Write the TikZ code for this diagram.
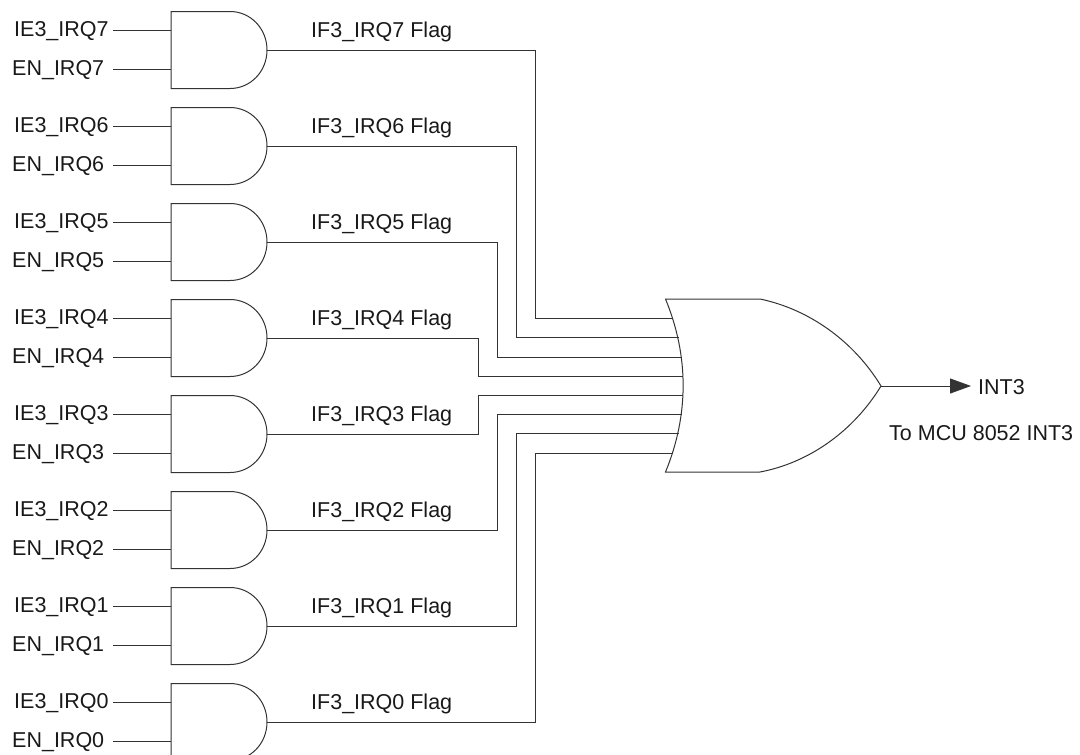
\documentclass[tikz,border=0pt]{standalone}
\usepackage{fontspec}
\setmainfont{Liberation Sans}
\usetikzlibrary{arrows.meta,calc}
\begin{document}
\begin{tikzpicture}[x=1pt,y=-1pt,
  wire/.style={line width=1pt,draw=black!80},
  gateline/.style={line width=1pt,draw=black!80,line join=miter},
  lbl/.style={inner sep=0pt,anchor=west,font=\fontsize{21.5}{25}\selectfont,text=black!90}]
\useasboundingbox (0,0) rectangle (1080,755);
\clip (0,0) rectangle (1080,755);
% OR gate pins
\coordinate (or7) at (672.5,318.5);
\coordinate (or6) at (678.5,337.5);
\coordinate (or5) at (681.5,357);
\coordinate (or4) at (683,376);
\coordinate (or3) at (683,395);
\coordinate (or2) at (681.5,414.5);
\coordinate (or1) at (678.5,433.5);
\coordinate (or0) at (672.5,453);
\coordinate (orout) at (881,386);
\draw[gateline] (665.5,299) -- (760,299) .. controls (808,309) and (853,340) .. (orout)
  .. controls (853,432) and (808,463) .. (760,472) -- (665.5,472)
  .. controls (689,415) and (689,356) .. cycle;
\foreach \i/\busx in {7/535,6/516,5/497,4/478,3/478,2/497,1/516,0/535}{
  \pgfmathsetmacro{\gy}{11.5+96*(7-\i)}
  \coordinate (top\i) at (171,\gy);
  \coordinate (bot\i) at (171,\gy+77);
  \coordinate (in\i a) at (171,\gy+19);
  \coordinate (in\i b) at (171,\gy+57.5);
  \coordinate (out\i) at (267,\gy+38.5);
  \coordinate (bus\i) at (\busx,\gy+38.5);
  \draw[gateline] (top\i) -- (230,\gy) .. controls (250.5,\gy) and (267,\gy+17) .. (out\i)
     .. controls (267,\gy+60) and (250.5,\gy+77) .. (230,\gy+77) -- (bot\i) -- cycle;
  \node[lbl] (ie\i) at (14,\gy+20) {IE3\_IRQ\i};
  \node[lbl] (en\i) at (12,\gy+58.5) {EN\_IRQ\i};
  \node[lbl] (fl\i) at (311,\gy+20.5) {IF3\_IRQ\i\ Flag};
  \coordinate (iw\i) at (113,\gy+19);
  \coordinate (ew\i) at (113,\gy+57.5);
  \draw[wire] (iw\i) -- (in\i a);
  \draw[wire] (ew\i) -- (in\i b);
  \draw[wire] (out\i) -- (bus\i) |- (or\i);
}
\node[lbl] (int3) at (978,387) {INT3};
\node[lbl] (tomcu) at (889,433) {To MCU 8052 INT3};
\coordinate (arrowend) at (971,386);
\draw[wire,-{Triangle[length=21pt,width=15pt]}] (orout) -- (arrowend);
\end{tikzpicture}
\end{document}
